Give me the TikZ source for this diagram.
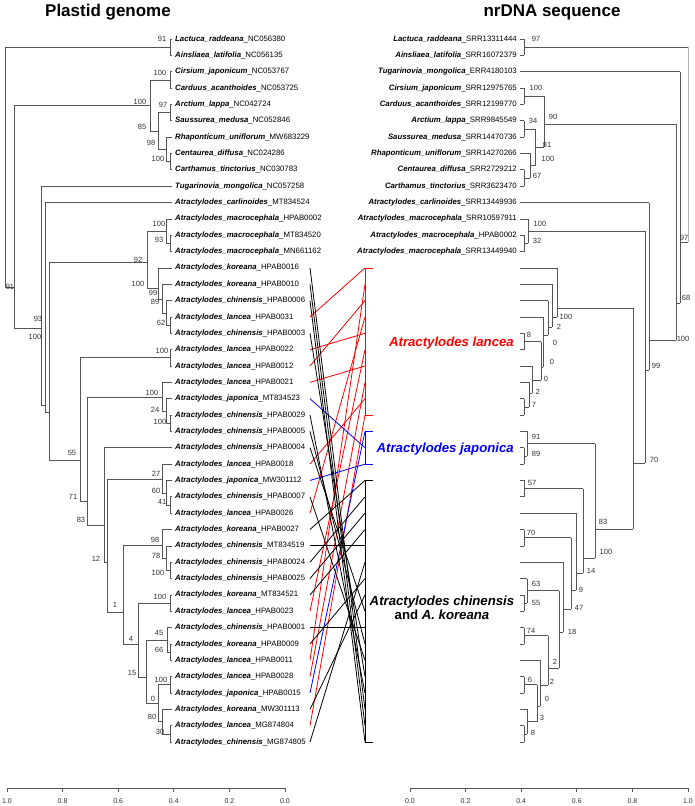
\documentclass[tikz,border=0pt]{standalone}
\usepackage{fontspec}
\setmainfont{Liberation Sans}
\definecolor{treegray}{RGB}{85,85,85}
\definecolor{rootgray}{RGB}{175,175,175}
\definecolor{bsgray}{RGB}{50,50,50}
\newcommand{\lf}[1]{(39+16.35*(#1-1))}
\newcommand{\spn}[1]{\textbf{\textit{#1}}}

\begin{document}
\begin{tikzpicture}[x=1pt, y=-1pt,
  tree/.style={draw=treegray, line width=0.7pt},
  leaf/.style={inner sep=0pt, text height=5.8pt, text depth=1.7pt, font=\fontsize{7.8}{9}\selectfont},
  bs/.style={inner sep=0pt, text=bsgray, font=\fontsize{7.5}{8}\selectfont},
  link/.style={line width=0.8pt},
  grp/.style={inner sep=0pt, font=\fontsize{13.2}{15}\selectfont\bfseries\itshape},
  head/.style={inner sep=0pt, font=\fontsize{17}{20}\selectfont\bfseries},
  tick/.style={inner sep=0pt, text=bsgray, font=\fontsize{7}{8}\selectfont}]
  \useasboundingbox (0,0) rectangle (694,806);

  \node[head] (hplastid) at (108,12) {Plastid genome};
  \node[head] (hnrdna) at (552,12) {nrDNA sequence};

  % plastid tree
  \foreach \i/\s/\a in {1/Lactuca\_raddeana/NC056380, 2/Ainsliaea\_latifolia/NC056135,
    3/Cirsium\_japonicum/NC053767, 4/Carduus\_acanthoides/NC053725, 5/Arctium\_lappa/NC042724,
    6/Saussurea\_medusa/NC052846, 7/Rhaponticum\_uniflorum/MW683229, 8/Centaurea\_diffusa/NC024286,
    9/Carthamus\_tinctorius/NC030783, 10/Tugarinovia\_mongolica/NC057258,
    11/Atractylodes\_carlinoides/MT834524, 12/Atractylodes\_macrocephala/HPAB0002,
    13/Atractylodes\_macrocephala/MT834520, 14/Atractylodes\_macrocephala/MN661162,
    15/Atractylodes\_koreana/HPAB0016, 16/Atractylodes\_koreana/HPAB0010,
    17/Atractylodes\_chinensis/HPAB0006, 18/Atractylodes\_lancea/HPAB0031,
    19/Atractylodes\_chinensis/HPAB0003, 20/Atractylodes\_lancea/HPAB0022,
    21/Atractylodes\_lancea/HPAB0012, 22/Atractylodes\_lancea/HPAB0021,
    23/Atractylodes\_japonica/MT834523, 24/Atractylodes\_chinensis/HPAB0029,
    25/Atractylodes\_chinensis/HPAB0005, 26/Atractylodes\_chinensis/HPAB0004,
    27/Atractylodes\_lancea/HPAB0018, 28/Atractylodes\_japonica/MW301112,
    29/Atractylodes\_chinensis/HPAB0007, 30/Atractylodes\_lancea/HPAB0026,
    31/Atractylodes\_koreana/HPAB0027, 32/Atractylodes\_chinensis/MT834519,
    33/Atractylodes\_chinensis/HPAB0024, 34/Atractylodes\_chinensis/HPAB0025,
    35/Atractylodes\_koreana/MT834521, 36/Atractylodes\_lancea/HPAB0023,
    37/Atractylodes\_chinensis/HPAB0001, 38/Atractylodes\_koreana/HPAB0009,
    39/Atractylodes\_lancea/HPAB0011, 40/Atractylodes\_lancea/HPAB0028,
    41/Atractylodes\_japonica/HPAB0015, 42/Atractylodes\_koreana/MW301113,
    43/Atractylodes\_lancea/MG874804, 44/Atractylodes\_chinensis/MG874805}
    \node[leaf, anchor=west] (pl\i) at (175,{\lf{\i}}) {\spn{\s}\_\a};

  \foreach \i/\px in {1/170,2/170,3/170,4/170,5/170,6/170,7/166,8/170,9/170,10/41,11/45,
    12/166,13/170,14/170,15/158,16/162,17/166,18/170,19/170,20/170,21/170,22/162,23/166,
    24/170,25/170,26/104,27/162,28/166,29/170,30/170,31/162,32/166,33/170,34/170,35/170,
    36/170,37/167,38/170,39/170,40/170,41/170,42/162,43/170,44/170}
    \draw[tree] (\px,{\lf{\i}}) -- (172,{\lf{\i}});

  \foreach \x/\a/\b/\m/\p in {170/39/55.35/47.2/5, 170/71.7/88.05/79.9/150,
    170/104.4/120.75/112.6/158, 170/153.45/169.8/161.6/166, 166/137.1/161.6/149.4/158,
    158/112.6/149.4/131/150, 150/79.9/131/105.5/14, 14/105.5/328/287/5, 5/47.2/287/287/5,
    41/186.15/405/328/14, 45/202.5/412/405/41, 49/262/460/412/45, 147/231/288/262/49,
    166/218.85/243.4/231/147, 170/235.2/251.55/243.4/166, 158/267.9/299/288/147,
    162/284.25/313/299/158, 166/300.6/325.1/313/162, 170/316.95/333.3/325.1/166,
    80/357.8/501/460/49, 170/349.65/366/357.8/80, 87/397/525/501/80,
    162/382.35/411/397/87, 166/398.7/423.2/411/162, 170/415.05/431.4/423.2/166,
    104/447.75/562/525/87, 107/479/612/562/104, 162/464.1/493/479/107,
    166/480.45/505/493/162, 170/496.8/513.15/505/166, 123/545/644/612/107,
    162/529.5/558/545/123, 166/545.85/570.4/558/162, 170/562.2/578.55/570.4/166,
    138/603.1/677/644/123, 170/594.9/611.25/603.1/138, 146/640/703/677/138,
    167/627.6/652.1/640/146, 170/643.95/660.3/652.1/167, 158/684.8/721.5/703/146,
    170/676.65/693/684.8/158, 162/709.35/733.9/721.5/158, 170/725.7/742.05/733.9/162}
  {
    \draw[tree] (\x,\a) -- (\x,\b);
    \draw[tree] (\p,\m) -- (\x,\m);
  }

  \foreach \x/\y/\t [count=\k] in {162/39/91, 160/73/100, 140/102/100, 163/105/97,
    142/127/85, 151/143/98, 158/159/100, 159/224/100, 159/240/93, 138/260/92,
    138/284/100, 153/293/99, 155/302/89, 161/323/62, 10/287/91, 38/319/93, 35/337/100,
    162/351/100, 152/393/100, 155/410/24, 160/422/100, 72/453/55, 156/474/27,
    156/491/60, 162/502/41, 73/497/71, 81/520/83, 155/540/98, 156/556/78, 158/573/100,
    96/559/12, 160/597/100, 115/605/1, 131/639/4, 159/633/45, 159/650/66, 132/673/15,
    161/680/100, 153/699/0, 152/717/80, 160/732/30}
    \node[bs] (bsp\k) at (\x,\y) {\t};

  % nrDNA tree
  \foreach \i/\s/\a in {1/Lactuca\_raddeana/SRR13311444, 2/Ainsliaea\_latifolia/SRR16072379,
    3/Tugarinovia\_mongolica/ERR4180103, 4/Cirsium\_japonicum/SRR12975765,
    5/Carduus\_acanthoides/SRR12199770, 6/Arctium\_lappa/SRR9845549,
    7/Saussurea\_medusa/SRR14470736, 8/Rhaponticum\_uniflorum/SRR14270266,
    9/Centaurea\_diffusa/SRR2729212, 10/Carthamus\_tinctorius/SRR3623470,
    11/Atractylodes\_carlinoides/SRR13449936, 12/Atractylodes\_macrocephala/SRR10597911,
    13/Atractylodes\_macrocephala/HPAB0002, 14/Atractylodes\_macrocephala/SRR13449940}
    \node[leaf, anchor=east] (nr\i) at (517,{\lf{\i}}) {\spn{\s}\_\a};

  \foreach \i/\px in {1/524,2/524,3/680,4/524,5/524,6/524,7/524,8/530,9/524,10/524,
    11/649,12/528,13/524,14/524,15/557,16/552,17/548,18/543,19/524,20/524,21/532,22/529,
    23/524,24/524,25/527,26/524,27/524,28/524,29/524,30/576,31/524,32/524,33/563,34/527,
    35/524,36/524,37/524,38/524,39/540,40/524,41/524,42/527,43/524,44/524}
    \draw[tree] (520,{\lf{\i}}) -- (\px,{\lf{\i}});

  \draw[draw=rootgray, line width=0.7pt] (688,47.2) -- (688,242);
  \foreach \x/\a/\b/\m/\p in {524/39/55.35/47.2/688, 524/88.05/104.4/96.2/544,
    524/120.75/137.1/128.9/535, 524/169.8/186.15/178/530, 530/153.45/178/165.7/535,
    535/128.9/165.7/147.3/544, 544/96.2/147.3/124/676, 524/235.2/251.55/243.4/528,
    528/218.85/243.4/231/645, 680/71.7/303/242/688, 676/124/340/303/680,
    649/202.5/370/340/676, 645/231/463/370/649, 633/308/529/463/645,
    557/267.9/317/308/633, 552/284.25/327/317/557, 548/300.6/335/327/552,
    543/316.95/367/335/548, 524/333.3/349.65/341.5/541, 541/341.5/380/367/543,
    532/366/393/380/541, 529/382.35/407/393/532, 524/398.7/415.05/406.9/529,
    524/447.75/464.1/455.9/527, 527/431.4/455.9/443.6/595, 595/443.6/558/529/633,
    524/480.45/496.8/488.6/583, 583/488.6/573/558/595, 576/513.15/590/573/583,
    524/529.5/545.85/537.7/571, 571/537.7/609/590/576, 563/562.2/632/609/571,
    524/594.9/611.25/603.1/527, 527/578.55/603.1/590.8/559, 559/590.8/668/632/563,
    524/627.6/643.95/635.8/548, 548/635.8/685/668/559, 540/660.3/706/685/548,
    524/676.65/693/684.8/537, 524/725.7/742.05/733.9/527, 527/709.35/733.9/721.6/537,
    537/684.8/721.6/706/540}
  {
    \draw[tree] (\x,\a) -- (\x,\b);
    \draw[tree] (\x,\m) -- (\p,\m);
  }

  \foreach \x/\y/\t [count=\k] in {536/39/97, 536/88/100, 533/121/34, 553/117/90,
    547/145/81, 548/159/100, 537/176/67, 540/224/100, 537/241/32, 684/238/97, 686/298/68,
    683/339/100, 656/366/99, 654/460/70, 566/317/100, 559/327/2, 555/343/0, 552/362/0,
    546/379/0, 538/392/2, 534/405/7, 529/335/8, 536/437/91, 536/454/89, 532/483/57,
    603/522/83, 606/552/100, 591/571/14, 531/533/70, 581/590/9, 579/608/47, 536/584/63,
    536/603/55, 572/632/18, 531/631/74, 555/662/2, 552/682/2, 530/680/6, 547/699/0,
    542/718/3, 533/733/8}
    \node[bs] (bsn\k) at (\x,\y) {\t};

  % links
  \foreach \i in {15,...,44} {
    \coordinate (L\i) at (310,{\lf{\i}});
    \coordinate (R\i) at (365,{\lf{\i}});
  }
  \foreach \i/\j in {18/15, 20/19, 21/17, 22/21, 27/23, 30/18, 36/20, 39/16, 40/22, 43/24}
    \draw[link, red] (L\i) -- (R\j);
  \foreach \i/\j in {23/26, 28/27, 41/25}
    \draw[link, blue] (L\i) -- (R\j);
  \foreach \i/\j in {15/42, 16/43, 17/44, 19/40, 24/41, 25/38, 26/36, 29/39, 31/28,
    32/32, 33/29, 34/30, 35/31, 37/37, 38/34, 42/35, 44/33}
    \draw[link, black] (L\i) -- (R\j);

  \draw[link, red] ([xshift=8pt]R15) -- (R15) -- (R24) -- ([xshift=8pt]R24);
  \draw[link, blue] ([xshift=8pt]R25) -- (R25) -- (R27) -- ([xshift=8pt]R27);
  \draw[link, black] ([xshift=8pt]R28) -- (R28) -- (R44) -- ([xshift=8pt]R44);

  \node[grp, text=red, anchor=east] (glancea) at (514,343) {Atractylodes lancea};
  \node[grp, text=blue, anchor=east] (gjaponica) at (514,449) {Atractylodes japonica};
  \node[grp, align=center] (gchinensis) at (442,608)
    {Atractylodes chinensis\\[-1pt] {\upshape and} A. koreana};

  % axes
  \draw[draw=treegray, line width=0.7pt] (7,788) -- (285,788);
  \draw[draw=treegray, line width=0.7pt] (410,788) -- (688,788);
  \foreach \k/\l in {0/1.0, 1/0.8, 2/0.6, 3/0.4, 4/0.2, 5/0.0} {
    \draw[draw=treegray, line width=0.7pt] ({7+55.6*\k},788) -- ({7+55.6*\k},792);
    \node[tick] (tl\k) at ({7+55.6*\k},801) {\l};
  }
  \foreach \k/\l in {0/0.0, 1/0.2, 2/0.4, 3/0.6, 4/0.8, 5/1.0} {
    \draw[draw=treegray, line width=0.7pt] ({410+55.6*\k},788) -- ({410+55.6*\k},792);
    \node[tick] (tr\k) at ({410+55.6*\k},801) {\l};
  }
\end{tikzpicture}
\end{document}
